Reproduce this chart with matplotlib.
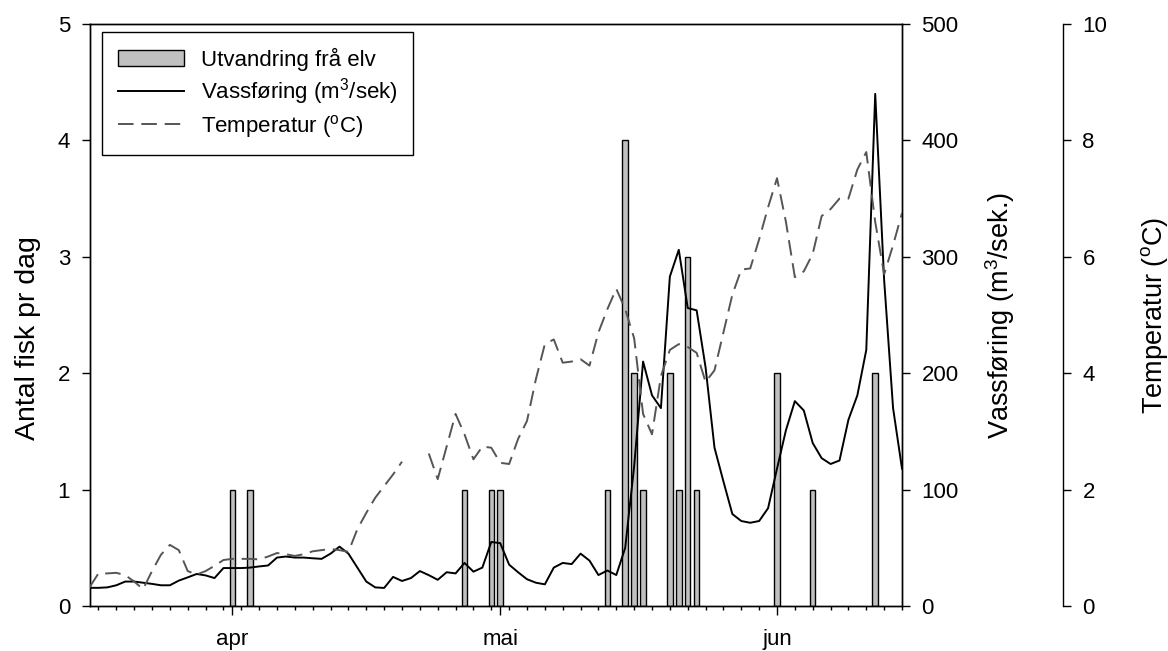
import numpy as np
import matplotlib
matplotlib.use("Agg")
import matplotlib.pyplot as plt

plt.rcParams["font.family"] = "Liberation Sans"
plt.rcParams["mathtext.fontset"] = "custom"
plt.rcParams["mathtext.rm"] = "Liberation Sans"
plt.rcParams["mathtext.it"] = "Liberation Sans:italic"

# Dagar rekna frå 16. mars (dag 0) til 15. juni (dag 91)
dag = np.arange(0, 92)

# Vassføring (m3/sek), ein verdi per dag
vassforing = [
    15.6, 15.6, 16, 17.8, 21, 21, 20, 19, 17.8, 17.8,
    21.8, 24.6, 27.5, 26.3, 24, 32.6, 32.6, 32.6, 33, 34,
    34.8, 41.6, 42.5, 41.6, 41.6, 41, 40.5, 45, 51, 45,
    33, 21, 16, 15.5, 25, 21.5, 24, 30, 26.5, 22.5,
    29, 28, 37, 29.5, 33, 55, 54, 35.5, 29, 23,
    20, 18.6, 33, 37, 36, 45, 39, 26.6, 30.5, 26.6,
    50, 120, 210, 181, 170, 283, 306, 256, 254, 205,
    136, 107, 79, 73, 71.5, 73, 84, 118, 151, 176,
    168, 140, 127, 122, 125, 160, 181, 220, 440, 280,
    170, 118,
]

# Temperatur (grader C), manglar for dag 36 og 37
temperatur = [
    0.32, 0.56, 0.56, 0.57, 0.53, 0.42, 0.29, 0.6, 0.88, 1.05,
    0.96, 0.6, 0.54, 0.6, 0.69, 0.79, 0.81, 0.81, 0.81, 0.8,
    0.85, 0.91, 0.89, 0.86, 0.89, 0.94, 0.96, 0.98, 0.96, 0.93,
    1.32, 1.6, 1.86, 2.06, 2.26, 2.48, np.nan, np.nan, 2.62, 2.18,
    2.74, 3.3, 2.95, 2.52, 2.74, 2.72, 2.46, 2.44, 2.87, 3.18,
    3.9, 4.5, 4.58, 4.18, 4.2, 4.24, 4.13, 4.7, 5.1, 5.45,
    5.1, 4.6, 3.3, 2.95, 3.95, 4.4, 4.5, 4.45, 4.35, 3.85,
    4.05, 4.7, 5.35, 5.78, 5.8, 6.3, 6.85, 7.35, 6.6, 5.65,
    5.75, 6.05, 6.7, 6.82, 7.0, 7.0, 7.5, 7.8, 6.6, 5.7,
    6.2, 6.75,
]

# Utvandring frå elv (antal fisk pr dag)
dag_utv = [16, 18, 42, 45, 46, 58, 60, 61, 62, 65, 66, 67, 68, 77, 81, 88]
antal_fisk = [1, 1, 1, 1, 1, 1, 4, 2, 1, 2, 1, 3, 1, 2, 1, 2]

# Månadsmerke
maaned_dag = [16, 46, 77]
maaned_namn = ["apr", "mai", "jun"]

W, H = 1168, 651
fig = plt.figure(figsize=(W / 100, H / 100), dpi=100)
x0, x1, y0, y1 = 89.5, 902, 24, 606
ax = fig.add_axes([x0 / W, 1 - y1 / H, (x1 - x0) / W, (y1 - y0) / H])

stolpar = ax.bar(dag_utv, antal_fisk, width=0.62, color="#c0c0c0",
                 edgecolor="black", linewidth=1.0, label="Utvandring frå elv")
ax.set_xlim(0, 91)
ax.set_ylim(0, 5)
ax.set_yticks(range(0, 6))
ax.set_xticks(maaned_dag)
ax.set_xticklabels(maaned_namn)
ax.set_xticks(np.arange(1, 92, 2), minor=True)
ax.tick_params(axis="y", direction="out", length=6, width=1, pad=8, labelsize=16)
ax.tick_params(axis="x", which="major", direction="out", length=6.5, width=1,
               pad=10, labelsize=16)
ax.tick_params(axis="x", which="minor", direction="out", length=3, width=1)
ax.set_ylabel("Antal fisk pr dag", fontsize=20.5, va="center")
ax.yaxis.set_label_coords(-0.0757, 0.46)

# Vassføring på høgre akse
ax2 = ax.twinx()
linje_q, = ax2.plot(dag, vassforing, color="black", lw=1.4,
                    label=r"Vassføring (m$^3$/sek)")
ax2.set_ylim(0, 500)
ax2.set_yticks(range(0, 501, 100))
ax2.tick_params(axis="y", direction="out", length=6, width=1, pad=8, labelsize=16)
ax2.set_ylabel(r"Vassføring (m$^3$/sek.)", fontsize=19.5, va="center")
ax2.yaxis.set_label_coords(1.1206, 0.5)

# Temperatur på ein eigen akse lenger ut
ax3 = ax.twinx()
ax3.spines["right"].set_position(("axes", (1063 - x0) / (x1 - x0)))
for s in ["top", "left", "bottom"]:
    ax3.spines[s].set_visible(False)
linje_t, = ax3.plot(dag, temperatur, color="#555555", lw=1.4, ls=(0, (8, 4)),
                    label=r"Temperatur ($^\mathrm{o}$C)")
ax3.set_ylim(0, 10)
ax3.set_yticks(range(0, 11, 2))
ax3.tick_params(axis="y", direction="out", length=6, width=1, pad=8, labelsize=16)
ax3.set_ylabel(r"Temperatur ($^\mathrm{o}$C)", fontsize=19.5, va="center")
ax3.yaxis.set_label_coords(1.311, 0.5)

for a in [ax, ax2, ax3]:
    for s in a.spines.values():
        s.set_linewidth(1.0)

leg = ax3.legend([stolpar, linje_q, linje_t],
                 [stolpar.get_label(), linje_q.get_label(), linje_t.get_label()],
                 loc="upper left", bbox_to_anchor=(0.0154, 0.986), borderaxespad=0,
                 fontsize=16, handlelength=3, handletextpad=0.75, borderpad=0.7,
                 labelspacing=0.25, fancybox=False, framealpha=1, edgecolor="black")
leg.get_frame().set_linewidth(1.0)

fig.savefig("out.png", dpi=100)
